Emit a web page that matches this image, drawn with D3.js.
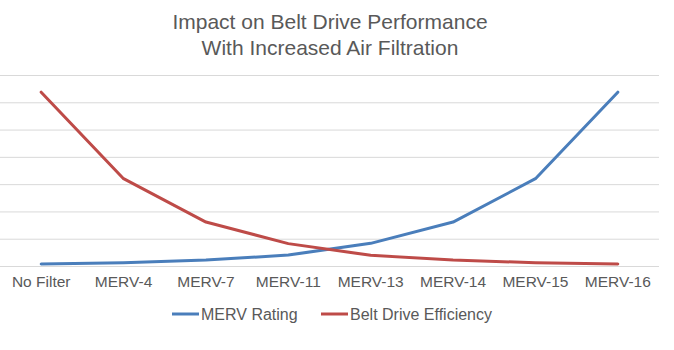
<!DOCTYPE html>
<html>
<head>
<meta charset="utf-8">
<script src="https://cdn.jsdelivr.net/npm/d3@7"></script>
<style>
  html, body { margin: 0; padding: 0; background: #fff; overflow: hidden; }
  svg { display: block; }
  text { font-family: "Liberation Sans", Arial, sans-serif; fill: #595959; }
</style>
</head>
<body>
<svg width="674" height="350"></svg>
<script>
const categories = ["No Filter", "MERV-4", "MERV-7", "MERV-11", "MERV-13", "MERV-14", "MERV-15", "MERV-16"]
const mervRating = [0.07, 0.12, 0.22, 0.40, 0.83, 1.61, 3.2, 6.37]
const beltEfficiency = [6.37, 3.2, 1.61, 0.82, 0.39, 0.22, 0.12, 0.07]
const yTicks = [0, 1, 2, 3, 4, 5, 6, 7]
const seriesNames = ["MERV Rating", "Belt Drive Efficiency"]
const titleLines = ["Impact on Belt Drive Performance", "With Increased Air Filtration"]

const svg = d3.select('svg')
const width = +svg.attr('width')
const height = +svg.attr('height')

const margin = {top: 75, right: 15, bottom: 84, left: 0}
const innerWidth = width - margin.left - margin.right
const innerHeight = height - margin.top - margin.bottom

const xScale = d3.scaleBand()
	.domain(categories)
	.range([0, innerWidth])

const yScale = d3.scaleLinear()
	.domain([0, 7])
	.range([innerHeight, 0])

const colors = d3.scaleOrdinal()
	.domain(seriesNames)
	.range(['#4A7EBB', '#BE4B48'])

const g = svg.append('g')
	.attr('transform', `translate(${margin.left}, ${margin.top})`)

// gridlines (no labels in the reference)
g.append('g')
	.call(d3.axisLeft(yScale).tickValues(yTicks).tickSize(-innerWidth).tickFormat(''))
	.call(s => s.select('.domain').remove())
	.call(s => s.selectAll('.tick text').remove())
	.selectAll('.tick line')
		.attr('stroke', '#D9D9D9')
		.attr('stroke-width', 1)

// x axis labels
g.append('g')
	.attr('transform', `translate(0, ${innerHeight})`)
	.attr('font-family', null)
	.attr('font-size', 15.5)
	.call(d3.axisBottom(xScale).tickSize(0).tickPadding(10))
	.call(s => s.select('.domain').remove())
	.selectAll('text')
		.attr('font-size', 15.5)
		.attr('fill', '#595959')

const line = d3.line()
	.x((d, i) => xScale(categories[i]) + xScale.bandwidth() / 2)
	.y(d => yScale(d))

const series = [mervRating, beltEfficiency]
series.forEach((vals, k) => {
	g.append('path')
		.datum(vals)
		.attr('fill', 'none')
		.attr('stroke', colors(seriesNames[k]))
		.attr('stroke-width', 3)
		.attr('stroke-linejoin', 'round')
		.attr('stroke-linecap', 'round')
		.attr('d', line)
})

// title
svg.selectAll('.title')
	.data(titleLines)
	.enter().append('text')
		.attr('class', 'title')
		.attr('x', 330)
		.attr('y', (d, i) => 29 + i * 25.5)
		.attr('text-anchor', 'middle')
		.attr('font-size', 21)
		.text(d => d)

// legend
const legendX = [172, 321]
const legend = svg.append('g')
seriesNames.forEach((name, i) => {
	legend.append('line')
		.attr('x1', legendX[i]).attr('x2', legendX[i] + 27)
		.attr('y1', 314).attr('y2', 314)
		.attr('stroke', colors(name))
		.attr('stroke-width', 3)
	legend.append('text')
		.attr('x', legendX[i] + 29)
		.attr('y', 320)
		.attr('font-size', 16)
		.text(name)
})
</script>
</body>
</html>
